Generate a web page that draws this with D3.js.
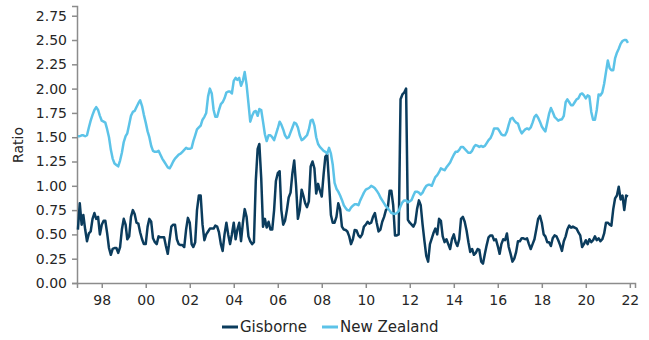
<!DOCTYPE html>
<html>
<head>
<meta charset="utf-8">
<script src="https://cdn.jsdelivr.net/npm/d3@7"></script>
<style>
  body { margin: 0; background: #fff; }
  svg text { font-family: "DejaVu Sans", Verdana, sans-serif; fill: #262626; }
</style>
</head>
<body>
<div id="chart"></div>
<script>
// monthly series, first point is December 1996
const firstMonth = new Date(1996, 11, 1);

// Gisborne ratio, one row per year (1996 has only December)
const gisborne = [
  0.55,
  0.82, 0.60, 0.70, 0.55, 0.43, 0.51, 0.53, 0.66, 0.72, 0.66, 0.68, 0.50,
  0.60, 0.64, 0.64, 0.51, 0.36, 0.29, 0.35, 0.36, 0.36, 0.31, 0.37, 0.55,
  0.66, 0.60, 0.45, 0.48, 0.68, 0.75, 0.71, 0.62, 0.61, 0.52, 0.45, 0.40,
  0.40, 0.58, 0.66, 0.63, 0.46, 0.42, 0.40, 0.48, 0.47, 0.47, 0.47, 0.38,
  0.30, 0.45, 0.58, 0.60, 0.60, 0.45, 0.40, 0.39, 0.39, 0.37, 0.55, 0.67,
  0.62, 0.40, 0.37, 0.42, 0.75, 0.90, 0.90, 0.60, 0.44, 0.50, 0.53, 0.56,
  0.56, 0.56, 0.59, 0.58, 0.52, 0.40, 0.33, 0.50, 0.62, 0.50, 0.40, 0.50,
  0.62, 0.45, 0.55, 0.62, 0.43, 0.62, 0.76, 0.68, 0.48, 0.43, 0.40, 0.42,
  1.05, 1.38, 1.43, 1.08, 0.58, 0.66, 0.57, 0.63, 0.55, 0.55, 0.75, 1.05,
  1.13, 1.15, 0.75, 0.60, 0.64, 0.75, 0.88, 0.93, 1.13, 1.26, 1.00, 0.66,
  0.75, 0.96, 0.90, 0.82, 0.78, 0.84, 1.20, 1.25, 1.18, 0.92, 1.02, 0.95,
  0.89, 1.12, 1.30, 1.32, 1.03, 0.70, 0.62, 0.62, 0.68, 0.82, 0.76, 0.58,
  0.55, 0.545, 0.53, 0.48, 0.40, 0.45, 0.545, 0.54, 0.49, 0.47, 0.50, 0.58,
  0.60, 0.63, 0.61, 0.62, 0.68, 0.72, 0.62, 0.53, 0.55, 0.63, 0.68, 0.75,
  0.77, 0.95, 0.95, 0.80, 0.49, 0.49, 0.50, 1.89, 1.94, 1.96, 2.00, 0.65,
  0.62, 0.60, 0.58, 0.62, 0.76, 0.85, 0.80, 0.60, 0.43, 0.28, 0.22, 0.40,
  0.46, 0.52, 0.56, 0.50, 0.66, 0.64, 0.48, 0.42, 0.45, 0.40, 0.35, 0.45,
  0.50, 0.42, 0.38, 0.45, 0.66, 0.68, 0.63, 0.54, 0.42, 0.32, 0.35, 0.29,
  0.31, 0.35, 0.34, 0.22, 0.20, 0.30, 0.39, 0.47, 0.49, 0.49, 0.44, 0.45,
  0.38, 0.30, 0.40, 0.45, 0.44, 0.51, 0.37, 0.30, 0.22, 0.25, 0.32, 0.43,
  0.43, 0.46, 0.46, 0.45, 0.46, 0.40, 0.35, 0.40, 0.45, 0.55, 0.66, 0.69,
  0.62, 0.50, 0.48, 0.42, 0.42, 0.38, 0.46, 0.49, 0.48, 0.44, 0.39, 0.33,
  0.43, 0.48, 0.55, 0.59, 0.57, 0.58, 0.57, 0.56, 0.52, 0.49, 0.37, 0.40,
  0.44, 0.40, 0.45, 0.42, 0.44, 0.48, 0.44, 0.46, 0.43, 0.45, 0.51, 0.62,
  0.62, 0.60, 0.59, 0.76, 0.87, 0.90, 0.99, 0.86, 0.90, 0.75, 0.90, 0.89
];

// New Zealand ratio, same months
const newZealand = [
  1.51,
  1.51, 1.52, 1.52, 1.51, 1.52, 1.60, 1.67, 1.73, 1.78, 1.81, 1.78, 1.72,
  1.67, 1.66, 1.65, 1.58, 1.50, 1.37, 1.28, 1.23, 1.215, 1.20, 1.26, 1.34,
  1.45, 1.51, 1.54, 1.63, 1.72, 1.76, 1.77, 1.81, 1.85, 1.88, 1.82, 1.73,
  1.65, 1.56, 1.50, 1.41, 1.36, 1.35, 1.35, 1.36, 1.32, 1.28, 1.25, 1.22,
  1.19, 1.18, 1.21, 1.25, 1.28, 1.30, 1.32, 1.33, 1.35, 1.37, 1.39, 1.38,
  1.38, 1.39, 1.46, 1.52, 1.58, 1.60, 1.62, 1.68, 1.71, 1.75, 1.92, 2.00,
  1.95, 1.78, 1.71, 1.71, 1.78, 1.84, 1.86, 1.90, 1.96, 1.97, 1.97, 1.95,
  2.08, 2.11, 2.09, 2.11, 2.03, 2.08, 2.17, 2.04, 1.85, 1.66, 1.72, 1.76,
  1.77, 1.72, 1.79, 1.78, 1.66, 1.53, 1.46, 1.52, 1.52, 1.50, 1.47, 1.53,
  1.59, 1.66, 1.63, 1.58, 1.52, 1.49, 1.50, 1.55, 1.60, 1.65, 1.64, 1.60,
  1.52, 1.47, 1.48, 1.50, 1.52, 1.58, 1.67, 1.68, 1.62, 1.50, 1.43, 1.40,
  1.38, 1.36, 1.35, 1.33, 1.39, 1.33, 1.22, 1.03, 0.97, 0.94, 0.90, 0.855,
  0.80, 0.77, 0.75, 0.745, 0.775, 0.795, 0.81, 0.81, 0.80, 0.85, 0.89, 0.93,
  0.96, 0.97, 0.98, 1.00, 0.99, 0.975, 0.95, 0.92, 0.88, 0.85, 0.82, 0.79,
  0.77, 0.745, 0.72, 0.715, 0.71, 0.72, 0.74, 0.79, 0.83, 0.85, 0.85, 0.83,
  0.84, 0.855, 0.90, 0.94, 0.94, 0.93, 0.91, 0.93, 0.97, 1.00, 1.01, 1.01,
  1.00, 1.05, 1.09, 1.11, 1.14, 1.18, 1.17, 1.16, 1.19, 1.215, 1.24, 1.28,
  1.32, 1.35, 1.35, 1.37, 1.40, 1.40, 1.38, 1.36, 1.34, 1.34, 1.36, 1.40,
  1.42, 1.41, 1.40, 1.41, 1.40, 1.41, 1.44, 1.47, 1.49, 1.53, 1.59, 1.59,
  1.59, 1.56, 1.53, 1.52, 1.52, 1.56, 1.63, 1.69, 1.70, 1.67, 1.65, 1.64,
  1.58, 1.54, 1.56, 1.58, 1.59, 1.58, 1.60, 1.65, 1.71, 1.73, 1.70, 1.66,
  1.61, 1.58, 1.56, 1.65, 1.74, 1.80, 1.76, 1.71, 1.69, 1.67, 1.68, 1.685,
  1.72, 1.86, 1.89, 1.86, 1.83, 1.83, 1.86, 1.89, 1.90, 1.94, 1.95, 1.93,
  1.90, 1.93, 1.92, 1.76, 1.68, 1.68, 1.78, 1.94, 1.93, 1.96, 2.05, 2.17,
  2.29, 2.21, 2.19, 2.19, 2.31, 2.37, 2.41, 2.46, 2.49, 2.50, 2.50, 2.47
];

const yTicks = [0, 0.25, 0.5, 0.75, 1, 1.25, 1.5, 1.75, 2, 2.25, 2.5, 2.75];
const seriesNames = ["Gisborne", "New Zealand"];
const seriesColors = ["#0b3c5d", "#5cc3e8"];

function init() {
  var margin = { top: 6, right: 14, bottom: 57, left: 77 },
    width = 649 - margin.left - margin.right,
    height = 340 - margin.top - margin.bottom;

  var svg = d3
    .select("#chart")
    .append("svg")
    .attr("width", width + margin.left + margin.right)
    .attr("height", height + margin.top + margin.bottom);

  var g = svg
    .append("g")
    .attr("transform", "translate(" + margin.left + "," + margin.top + ")");

  var months = gisborne.map(function (d, i) {
    return d3.timeMonth.offset(firstMonth, i);
  });

  // x runs a little before the first month and past the last one
  var x = d3
    .scaleTime()
    .domain([new Date(1996, 10, 16), new Date(2022, 2, 28)])
    .range([0, width]);

  var y = d3.scaleLinear().domain([0, 2.85]).range([height, 0]);

  // axes
  var xAxis = g
    .append("g")
    .attr("transform", "translate(0," + height + ")")
    .call(
      d3
        .axisBottom(x)
        .ticks(d3.timeYear.every(2))
        .tickFormat(d3.timeFormat("%y"))
        .tickSizeOuter(0)
        .tickSize(5)
        .tickPadding(7)
    );

  var yAxis = g
    .append("g")
    .call(
      d3
        .axisLeft(y)
        .tickValues(yTicks)
        .tickFormat(d3.format(".2f"))
        .tickSizeOuter(0)
        .tickSize(5)
        .tickPadding(5)
    );

  [xAxis, yAxis].forEach(function (a) {
    a.selectAll("path, line").attr("stroke", "#8c8c8c").attr("stroke-width", 1.5);
    a.selectAll("text").style("font-size", "14px").attr("fill", "#262626");
  });

  // y title
  g.append("text")
    .attr("transform", "rotate(-90)")
    .attr("x", -(y(1.42)))
    .attr("y", -54)
    .attr("text-anchor", "middle")
    .style("font-size", "14px")
    .text("Ratio");

  // lines
  var line = d3
    .line()
    .x(function (d) {
      return x(d.date);
    })
    .y(function (d) {
      return y(d.value);
    });

  [gisborne, newZealand].forEach(function (values, k) {
    var data = values.map(function (v, i) {
      return { date: months[i], value: v };
    });
    g.append("path")
      .datum(data)
      .attr("fill", "none")
      .attr("stroke", seriesColors[k])
      .attr("stroke-width", 2.5)
      .attr("stroke-linejoin", "round")
      .attr("d", line);
  });

  // legend
  var legendX = [222, 322];
  var legend = svg
    .selectAll(".legend")
    .data(seriesNames)
    .enter()
    .append("g")
    .attr("class", "legend")
    .attr("transform", function (d, i) {
      return "translate(" + legendX[i] + ",327)";
    });

  legend
    .append("line")
    .attr("x1", 0)
    .attr("x2", 16)
    .attr("stroke", function (d, i) {
      return seriesColors[i];
    })
    .attr("stroke-width", 3);

  legend
    .append("text")
    .attr("x", 18)
    .attr("dy", "0.35em")
    .style("font-size", "15px")
    .text(function (d) {
      return d;
    });
}

window.onload = init;
</script>
</body>
</html>
